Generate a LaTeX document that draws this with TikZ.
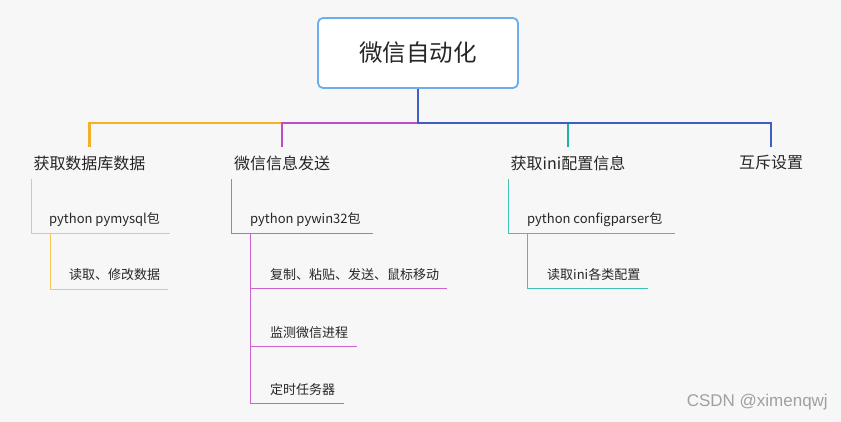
\documentclass[tikz,border=0pt]{standalone}
\usepackage{fontspec}
\setmainfont{Noto Sans CJK SC}
\newfontfamily\markfont{Liberation Sans}
\usetikzlibrary{calc}
\definecolor{bgGray}{HTML}{F7F7F7}
\definecolor{rootLine}{HTML}{6AAEF2}
\definecolor{nodeText}{HTML}{262626}
\definecolor{orangeLine}{HTML}{F5B02A}
\definecolor{orangeThin}{HTML}{F8C75A}
\definecolor{magentaLine}{HTML}{C04BC4}
\definecolor{magentaThin}{HTML}{CB62CD}
\definecolor{tealLine}{HTML}{1DB4A4}
\definecolor{tealThin}{HTML}{3EC3B5}
\definecolor{blueLine}{HTML}{3D5FC6}
\definecolor{markGray}{HTML}{A0A0A0}

\begin{document}
\begin{tikzpicture}[
  x=1pt, y=-1pt,
  root/.style  ={rounded corners=5pt, draw=rootLine, line width=1.8pt, fill=white, text=nodeText,
                 minimum width=200pt, minimum height=70pt, font=\fontsize{23.5}{28}\selectfont},
  branch/.style={text=nodeText, inner sep=0pt, minimum height=32pt, font=\fontsize{16}{19}\selectfont},
  leaf/.style  ={anchor=west, text=nodeText, inner sep=0pt, font=\fontsize{13}{16}\selectfont},
  trunk/.style ={line width=2.6pt},
  twig/.style  ={line width=0.9pt},
]

% ----- Canvas -----
\fill[bgGray] (0,0) rectangle (841,422);
\useasboundingbox (0,0) rectangle (841,422);

% ----- Root and first level -----
\node[root] (root) at (418,53) {微信自动化};
\coordinate (hub) at (418,123);

\node[branch] (b1) at (89.5,163) {获取数据库数据};
\node[branch] (b2) at (282,163) {微信信息发送};
\node[branch] (b3) at (568,163) {获取ini配置信息};
\node[branch] (b4) at (771,163) {互斥设置};

\draw[trunk, orangeLine]  (b2.north |- hub) -| (b1.north);
\draw[trunk, magentaLine] (hub) -| (b2.north);
\draw[trunk, tealLine]    (b3.north |- hub) -- (b3.north);
\draw[trunk, blueLine]    (root.south) -- (hub) -| (b4.north);

% ----- Database branch -----
\node[leaf] (pkg1) at (49,219.5) {python pymysql包};
\coordinate (pkg1L) at (31,233);
\coordinate (pkg1R) at (170,233);
\node[leaf] (op1) at (69,274.5) {读取、修改数据};
\coordinate (op1L) at (50,289);
\coordinate (op1R) at (168,289);

\draw[twig, orangeThin] (b1.south -| pkg1L) -- (pkg1L) -- (pkg1R);
\draw[twig, orangeThin] (pkg1L -| op1L) -- (op1L) -- (op1R);

% ----- Message branch -----
\node[leaf] (pkg2) at (250,219.5) {python pywin32包};
\coordinate (pkg2L) at (231,233);
\coordinate (pkg2R) at (373,233);
\node[leaf] (op2) at (270,274.5) {复制、粘贴、发送、鼠标移动};
\coordinate (op2L) at (250,288);
\coordinate (op2R) at (447,288);
\node[leaf] (op3) at (270,332.5) {监测微信进程};
\coordinate (op3L) at (250,346);
\coordinate (op3R) at (357,346);
\node[leaf] (op4) at (270,389.5) {定时任务器};
\coordinate (op4L) at (250,403);
\coordinate (op4R) at (344,403);

\draw[twig, magentaThin] (b2.south -| pkg2L) -- (pkg2L) -- (pkg2R);
\draw[twig, magentaThin] (pkg2L -| op2L) -- (op4L) -- (op4R);
\draw[twig, magentaThin] (op2L) -- (op2R);
\draw[twig, magentaThin] (op3L) -- (op3R);

% ----- Config branch -----
\node[leaf] (pkg3) at (527,219.5) {python configparser包};
\coordinate (pkg3L) at (508,233);
\coordinate (pkg3R) at (675,233);
\node[leaf] (op5) at (547,274.5) {读取ini各类配置};
\coordinate (op5L) at (527,288);
\coordinate (op5R) at (648,288);

\draw[twig, tealThin] (b3.south -| pkg3L) -- (pkg3L) -- (pkg3R);
\draw[twig, tealThin] (pkg3L -| op5L) -- (op5L) -- (op5R);

% ----- Watermark -----
\node[anchor=east, text=markGray, inner sep=0pt, font=\markfont\fontsize{17}{20}\selectfont] (mark) at (828,402) {CSDN @ximenqwj};

\end{tikzpicture}
\end{document}
